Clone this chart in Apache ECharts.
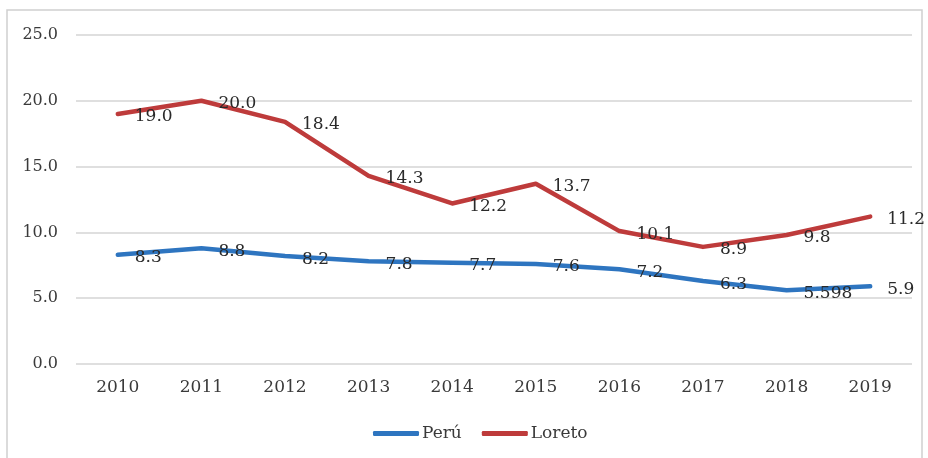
<!DOCTYPE html>
<html>
<head>
<meta charset="utf-8">
<script src="https://cdn.jsdelivr.net/npm/echarts@6/dist/echarts.min.js"></script>
<style>
  html, body { margin: 0; padding: 0; background: #fff; }
  #chart { width: 928px; height: 458px; }
</style>
</head>
<body>
<div id="chart"></div>
<script>
const years = ['2010', '2011', '2012', '2013', '2014', '2015', '2016', '2017', '2018', '2019'];
const peru = [8.3, 8.8, 8.2, 7.8, 7.7, 7.6, 7.2, 6.3, 5.598, 5.9];
const loreto = [19.0, 20.0, 18.4, 14.3, 12.2, 13.7, 10.1, 8.9, 9.8, 11.2];

const font = 'DejaVu Serif';
const textColor = '#3a3a3a';

function fmt(p) {
  const v = p.value;
  return Math.round(v * 10) === v * 10 ? v.toFixed(1) : String(v);
}

const labelStyle = {
  show: true,
  position: 'right',
  distance: 17,
  offset: [0, 3],
  fontFamily: font,
  fontSize: 17,
  color: '#2a2a2a',
  opacity: 1,
  formatter: fmt
};

const chart = echarts.init(document.getElementById('chart'));
chart.setOption({
  animation: false,
  color: ['#2E75C0', '#BE3B3B'],
  graphic: [{
    type: 'rect',
    shape: { x: 7, y: 10, width: 915, height: 470 },
    style: { fill: 'none', stroke: '#d0d0d0', lineWidth: 1.5 },
    silent: true
  }],
  grid: { left: 76, right: 16, top: 35, bottom: 94 },
  legend: {
    bottom: 11,
    left: 368,
    itemWidth: 46,
    itemHeight: 5,
    itemGap: 20,
    textStyle: { fontFamily: font, fontSize: 17, color: textColor, padding: [0, 0, 0, -2] },
    data: [
      { name: 'Perú', icon: 'roundRect', itemStyle: { color: '#2E75C0', opacity: 1 } },
      { name: 'Loreto', icon: 'roundRect', itemStyle: { color: '#BE3B3B', opacity: 1 } }
    ]
  },
  xAxis: {
    type: 'category',
    data: years,
    boundaryGap: true,
    axisLine: { show: false },
    axisTick: { show: false },
    axisLabel: { fontFamily: font, fontSize: 17, color: textColor, margin: 15 }
  },
  yAxis: {
    type: 'value',
    min: 0,
    max: 25,
    interval: 5,
    axisLine: { show: false },
    axisTick: { show: false },
    splitLine: { lineStyle: { color: '#d4d4d4', width: 1.5 } },
    axisLabel: {
      fontFamily: font, fontSize: 16, color: textColor, margin: 18,
      formatter: v => v.toFixed(1)
    }
  },
  series: [
    {
      name: 'Perú',
      type: 'line',
      data: peru,
      symbol: 'circle',
      symbolSize: 0,
      showSymbol: true,
      lineStyle: { width: 4.5, cap: 'round', join: 'round' },
      label: labelStyle
    },
    {
      name: 'Loreto',
      type: 'line',
      data: loreto,
      symbol: 'circle',
      symbolSize: 0,
      showSymbol: true,
      lineStyle: { width: 4.5, cap: 'round', join: 'round' },
      label: labelStyle
    }
  ]
});
</script>
</body>
</html>
